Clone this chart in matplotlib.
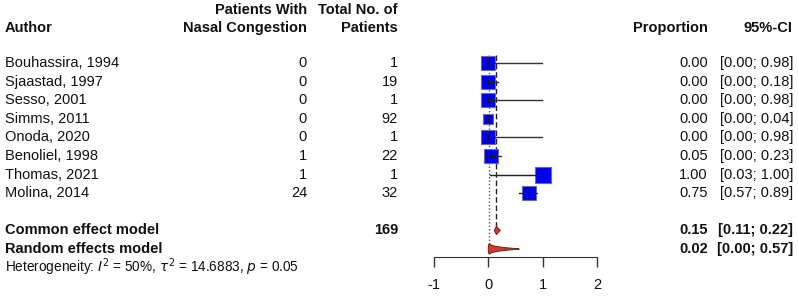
import numpy as np
import matplotlib
matplotlib.use("Agg")
import matplotlib.pyplot as plt
from matplotlib.patches import Polygon

plt.rcParams['font.family'] = ['Liberation Sans', 'DejaVu Sans']

authors = ["Bouhassira, 1994", "Sjaastad, 1997", "Sesso, 2001", "Simms, 2011",
           "Onoda, 2020", "Benoliel, 1998", "Thomas, 2021", "Molina, 2014"]
events = [0, 0, 0, 0, 0, 1, 1, 24]
totals = [1, 19, 1, 92, 1, 22, 1, 32]
prop = [0.00, 0.00, 0.00, 0.00, 0.00, 0.05, 1.00, 0.75]
lower = [0.00, 0.00, 0.00, 0.00, 0.00, 0.00, 0.03, 0.57]
upper = [0.98, 0.18, 0.98, 0.04, 0.98, 0.23, 1.00, 0.89]
sq_size = [10, 10, 10, 7.5, 10, 10.5, 11, 10.5]  # marker size in points

common = (0.15, 0.11, 0.22)
random_ = (0.02, 0.00, 0.57)
total_n = 169
het_text = r"Heterogeneity: $I^2$ = 50%, $\tau^2$ = 14.6883, $p$ = 0.05"
xticks = [-1, 0, 1, 2]

W, H = 798, 297
fig = plt.figure(figsize=(W / 100, H / 100), dpi=100)

# row geometry
row0_px, row_h = 63.0, 18.6
def row_to_fig(r):
    return 1 - (row0_px + r * row_h) / H

ax = fig.add_axes([434 / W, 0, 163 / W, 1])
ax.set_xlim(-1, 2)
ax.set_ylim((H - row0_px) / row_h, -row0_px / row_h)
for s in ['top', 'right', 'left']:
    ax.spines[s].set_visible(False)
axis_row = (257 - row0_px) / row_h
ax.spines['bottom'].set_position(('data', axis_row))
ax.spines['bottom'].set_bounds(-1, 2)
ax.spines['bottom'].set_color('#333333')
ax.set_xticks(xticks)
ax.set_xticklabels([str(t) for t in xticks], fontsize=10.5, color='#111111')
ax.tick_params(axis='x', direction='out', length=7, width=1, pad=8, color='#333333')
ax.set_yticks([])
ax.patch.set_alpha(0)

n = len(authors)
rows = np.arange(n)
common_row = n + 1
random_row = n + 2

# reference lines
ax.plot([common[0], common[0]], [-0.45, common_row], ls=(0, (4, 2)), color='#222222', lw=1, zorder=1)
ax.plot([random_[0], random_[0]], [-0.45, random_row], ls=(0, (1, 1.5)), color='#555555', lw=1, zorder=1)

# CIs and squares
for i in range(n):
    ax.plot([lower[i], upper[i]], [rows[i], rows[i]], color='#333333', lw=1, zorder=2)
    ax.plot(prop[i], rows[i], marker='s', ms=sq_size[i], mfc='#0000EE', mec='#6a6aa8', mew=0.8, zorder=3, ls='none')
    ax.plot([lower[i], min(upper[i], prop[i] + 0.12)], [rows[i], rows[i]], color='#222222', lw=0.8, zorder=4)
    ax.plot(prop[i], rows[i], marker='|', ms=5, color='#111111', mew=0.8, zorder=4, ls='none')

# diamonds (drawn on logit scale and back-transformed)
def logit(p):
    return np.log(p / (1 - p))
def expit(x):
    return 1 / (1 + np.exp(-x))

def diamond(est, lo, hi, row, half_h, lo_floor=1e-3):
    lo = max(lo, lo_floor)
    le, ll, lh = logit(est), logit(lo), logit(hi)
    left = np.linspace(ll, le, 20)
    right = np.linspace(le, lh, 30)
    xs_top = np.concatenate([left, right])
    hs = np.concatenate([(left - ll) / (le - ll), 1 - (right - le) / (lh - le)]) * half_h
    px = expit(xs_top)
    pts = np.column_stack([np.concatenate([px, px[::-1]]),
                           np.concatenate([row - hs, (row + hs)[::-1]])])
    return Polygon(pts, closed=True, fc='#d23a2a', ec='#7a2a20', lw=0.8, zorder=5)

ax.add_patch(diamond(*common, common_row, 0.22))
ax.add_patch(diamond(*random_, random_row, 0.28, lo_floor=2e-4))

# text columns
fs = 10.5
def ftext(x, r, s, ha='left', bold=False, size=fs, ypx=None):
    y = row_to_fig(r) if ypx is None else 1 - ypx / H
    fig.text(x / W, y, s, ha=ha, va='center', fontsize=size,
             fontweight='bold' if bold else 'normal', color='#111111')

# headers
ftext(5, 0, "Author", bold=True, ypx=28)
ftext(307, 0, "Patients With", ha='right', bold=True, ypx=10)
ftext(307, 0, "Nasal Congestion", ha='right', bold=True, ypx=28)
ftext(398, 0, "Total No. of", ha='right', bold=True, ypx=10)
ftext(398, 0, "Patients", ha='right', bold=True, ypx=28)
ftext(708, 0, "Proportion", ha='right', bold=True, ypx=28)
ftext(793, 0, "95%-CI", ha='right', bold=True, ypx=28)

for i in range(n):
    ftext(5, rows[i], authors[i])
    ftext(307, rows[i], str(events[i]), ha='right')
    ftext(398, rows[i], str(totals[i]), ha='right')
    ftext(708, rows[i], f"{prop[i]:.2f}", ha='right')
    ftext(793, rows[i], f"[{lower[i]:.2f}; {upper[i]:.2f}]", ha='right')

ftext(5, common_row, "Common effect model", bold=True)
ftext(398, common_row, str(total_n), ha='right', bold=True)
ftext(708, common_row, f"{common[0]:.2f}", ha='right', bold=True)
ftext(793, common_row, f"[{common[1]:.2f}; {common[2]:.2f}]", ha='right', bold=True)
ftext(5, random_row, "Random effects model", bold=True)
ftext(708, random_row, f"{random_[0]:.2f}", ha='right', bold=True)
ftext(793, random_row, f"[{random_[1]:.2f}; {random_[2]:.2f}]", ha='right', bold=True)
ftext(5, random_row + 1, het_text, size=9.8)

fig.savefig("out.png", dpi=100, facecolor='white')
